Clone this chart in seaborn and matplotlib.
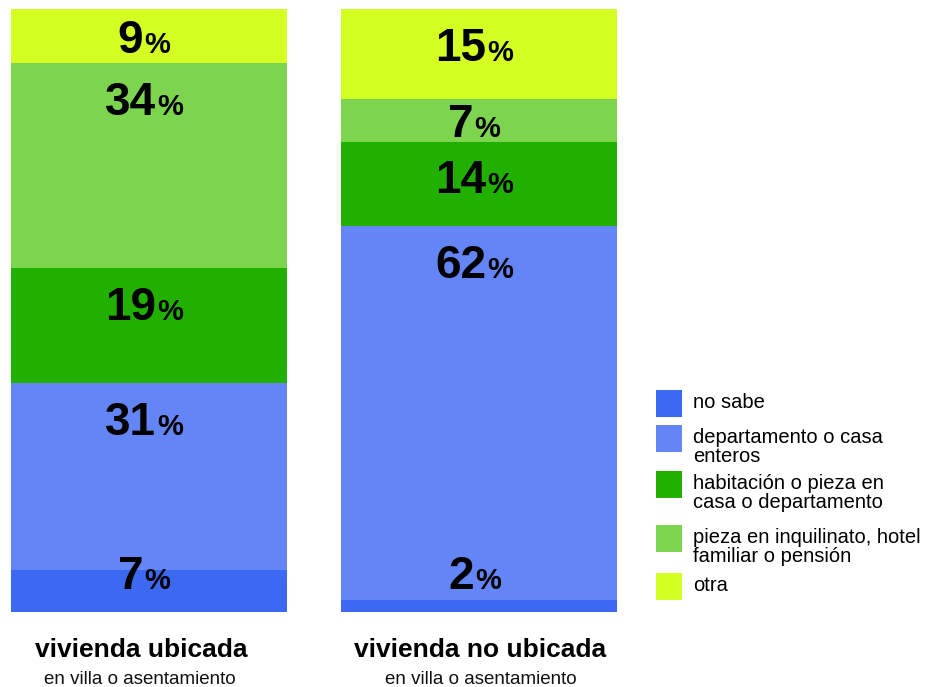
import pandas as pd
import matplotlib.pyplot as plt
import seaborn as sns
from matplotlib.patches import Rectangle

# datos
grupos = ['vivienda ubicada', 'vivienda no ubicada']
subtitulos = ['en villa o asentamiento', 'en villa o asentamiento']
tipos = ['no sabe',
         'departamento o casa\nenteros',
         'habitación o pieza en\ncasa o departamento',
         'pieza en inquilinato, hotel\nfamiliar o pensión',
         'otra']
colores = ['#3D69F2', '#6485F5', '#22B000', '#7CD44F', '#D4FF22']
ubicada = [7, 31, 19, 34, 9]
no_ubicada = [2, 62, 14, 7, 15]

sns.set_theme(style='white')
plt.rcParams['font.family'] = ['Liberation Sans', 'DejaVu Sans']

rows = []
for g, vals in zip(grupos, [ubicada, no_ubicada]):
    base = 0
    for t, v in zip(tipos, vals):
        rows.append({'grupo': g, 'tipo': t, 'pct': v, 'base': base})
        base += v
df = pd.DataFrame(rows)

W, H = 931, 687
fig = plt.figure(figsize=(W / 100, H / 100), dpi=100)
ax = fig.add_axes([11 / W, 75 / H, 608 / W, 603 / H])

for tipo, color in zip(tipos, colores):
    sub = df[df['tipo'] == tipo]
    sns.barplot(data=sub, x='grupo', y='pct', order=grupos, color=color,
                bottom=sub['base'].values, width=0.835, saturation=1,
                linewidth=0, edgecolor='none', errorbar=None, ax=ax)

ax.set_xlim(-0.4175, 1.4225)
ax.set_ylim(0, 100)
ax.axis('off')

# etiquetas de porcentaje
etiquetas = []
for _, r in df.iterrows():
    xi = grupos.index(r['grupo'])
    top = r['base'] + r['pct']
    yc = max(top - 5.8, r['base'] + r['pct'] / 2)
    yc = max(yc, 6.6)
    n = ax.annotate(f"{r['pct']:g}", xy=(xi, yc), xytext=(0, -12),
                    textcoords='offset points', ha='left', va='baseline',
                    fontsize=33, fontweight='bold', color='black')
    p = ax.annotate('%', xy=(xi, yc), xytext=(0, -12),
                    textcoords='offset points', ha='left', va='baseline',
                    fontsize=21, fontweight='bold', color='black')
    etiquetas.append((n, p))

fig.canvas.draw()
rend = fig.canvas.get_renderer()
k = 72 / fig.dpi
for n, p in etiquetas:
    w1 = n.get_window_extent(rend).width
    w2 = p.get_window_extent(rend).width
    gap = 1
    x0 = -(w1 + gap + w2) / 2 - 5
    n.xyann = (x0 * k, -12)
    p.xyann = ((x0 + w1 + gap) * k, -12)

# titulos debajo de las barras
title_dx = [-8, 1]
for i, (g, s) in enumerate(zip(grupos, subtitulos)):
    ax.annotate(g, xy=(i, H - 657), xycoords=('data', 'figure pixels'),
                xytext=(title_dx[i] * k, 0), textcoords='offset points',
                ha='center', va='baseline', fontsize=19, fontweight='bold',
                color='black')
    ax.annotate(s, xy=(i, H - 684), xycoords=('data', 'figure pixels'),
                xytext=(title_dx[i] * k * 1.2, 0), textcoords='offset points',
                ha='center', va='baseline', fontsize=13.5, color='#111111')

# leyenda
leg_tops = [390, 425, 471, 525, 573]
for tipo, color, yt in zip(tipos, colores, leg_tops):
    fig.add_artist(Rectangle((656 / W, (H - yt - 27) / H), 26 / W, 27 / H,
                             transform=fig.transFigure, facecolor=color,
                             edgecolor='none'))
    fig.text(693 / W, (H - yt - 3) / H, tipo, ha='left', va='top',
             fontsize=14.5, linespacing=1.0, color='black')

fig.savefig('out.png', dpi=100)
